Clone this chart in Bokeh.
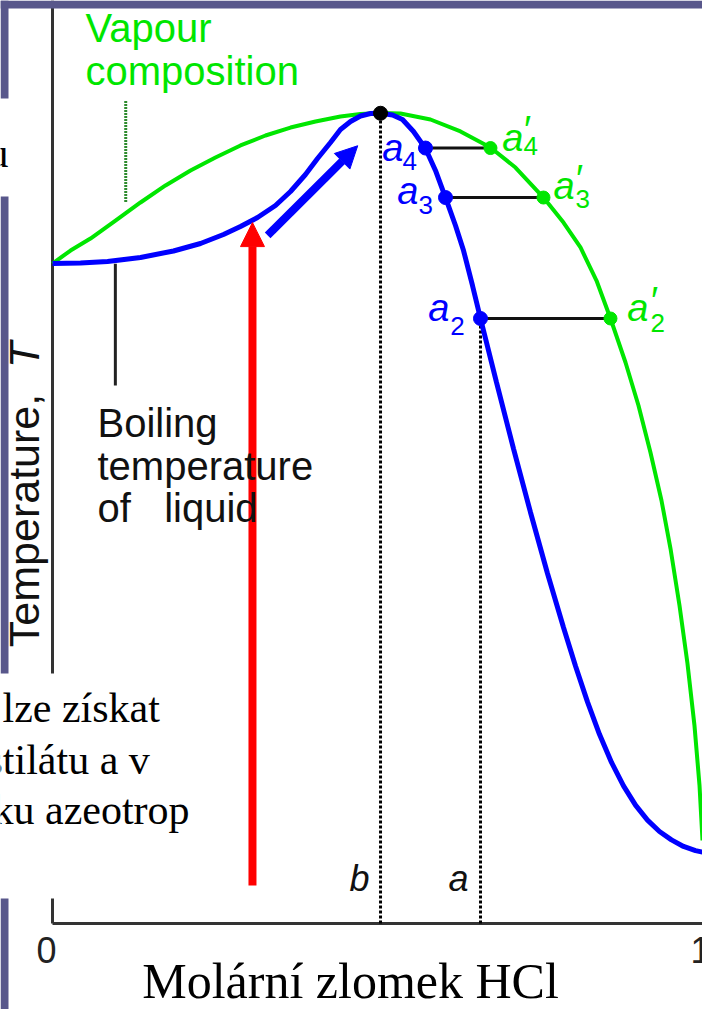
from math import pi
from bokeh.plotting import figure
from bokeh.models import Range1d, Label, Arrow, NormalHead, BoxAnnotation
from bokeh.embed import file_html
from bokeh.resources import INLINE

# ---------------- data (mole fraction HCl, temperature in arbitrary units) ----------------
x_vapour = [0.000, 0.0278, 0.0586, 0.0972, 0.1358, 0.1744, 0.2130, 0.2515, 0.2901, 0.3287,
            0.3673, 0.4059, 0.4444, 0.4753, 0.5062, 0.5370, 0.5833, 0.6296, 0.6759, 0.7145,
            0.7577, 0.7886, 0.8148, 0.8395, 0.8611, 0.8843, 0.9043, 0.9228, 0.9398, 0.9537,
            0.9676, 0.9799, 0.9907, 0.9985, 1.0031]
t_vapour = [72.13, 73.55, 74.86, 76.83, 78.80, 80.66, 82.30, 83.72, 85.03, 86.12,
            86.99, 87.65, 88.20, 88.47, 88.58, 88.52, 87.87, 86.56, 84.81, 82.62,
            79.34, 76.61, 73.88, 70.27, 66.12, 61.31, 56.61, 51.48, 46.23, 40.98,
            34.75, 28.42, 21.64, 15.08, 9.07]

x_liquid = [0.000, 0.0432, 0.0849, 0.1358, 0.1867, 0.2284, 0.2639, 0.2901, 0.3164, 0.3441,
            0.3673, 0.3904, 0.4090, 0.4290, 0.4444, 0.4599, 0.4753, 0.4907, 0.5062, 0.5247,
            0.5401, 0.5571, 0.5756, 0.5910, 0.6065, 0.6219, 0.6343, 0.6481, 0.6605, 0.6852,
            0.7114, 0.7377, 0.7639, 0.7886, 0.8071, 0.8256, 0.8441, 0.8627, 0.8812, 0.8997,
            0.9182, 0.9367, 0.9552, 0.9738, 0.9923, 1.0031]
t_liquid = [72.13, 72.19, 72.35, 72.79, 73.50, 74.32, 75.30, 76.17, 77.16, 78.47,
            80.00, 81.86, 83.61, 85.36, 86.78, 87.65, 88.25, 88.52, 88.55, 88.36,
            87.87, 86.56, 84.70, 82.30, 79.34, 76.28, 73.55, 69.73, 66.12, 59.13,
            51.91, 44.92, 38.25, 32.35, 28.15, 24.22, 20.68, 17.60, 15.04, 12.94,
            11.30, 10.05, 9.14, 8.42, 7.96, 7.80]

# tie lines a2, a3, a4 (liquid point, vapour point, temperature)
tie_names = ["2", "3", "4"]
tie_x_liq = [0.6605, 0.6065, 0.5756]
tie_x_vap = [0.8611, 0.7577, 0.6759]
tie_t = [66.12, 79.34, 84.75]

# azeotrope b and starting composition a
x_b, t_b = 0.5062, 88.55
x_a = 0.6605

x_tick_values = [0, 1]
x_tick_labels = ["0", "1"]

BLUE = "#0000ff"
GREEN = "#00e600"
PURPLE = "#58578b"
SANS = "Liberation Sans"
SERIF = "Liberation Serif"

X0, X1 = -0.08025, 1.00309
T0, T1 = -9.399, 100.874
PX_PER_X = 648.0
PX_PER_T = 9.15

p = figure(width=702, height=1009, output_backend="svg", toolbar_location=None,
           x_range=Range1d(X0, X1), y_range=Range1d(T0, T1),
           min_border=0, min_border_left=0, min_border_right=0,
           min_border_top=0, min_border_bottom=0)
p.outline_line_color = None
p.xaxis.visible = False
p.yaxis.visible = False
p.xgrid.visible = False
p.ygrid.visible = False
p.background_fill_color = "white"
p.border_fill_color = "white"

# axis lines
p.segment(x0=[0, 0], y0=[0, 0], x1=[x_tick_values[-1] + 0.0031, 0], y1=[0, T1],
          line_color="#333333", line_width=3)

# dotted verticals at b and a
p.segment(x0=[x_b, x_a], y0=[0, 0], x1=[x_b, x_a], y1=[t_b, tie_t[0]],
          line_color="#000000", line_width=3, line_dash="3 2")

# curves
p.line(x_vapour, t_vapour, line_color=GREEN, line_width=4)
p.line(x_liquid, t_liquid, line_color=BLUE, line_width=5)

# tie lines
p.segment(x0=tie_x_liq, y0=tie_t, x1=tie_x_vap, y1=tie_t, line_color="#111111", line_width=3)
p.scatter(tie_x_vap, tie_t, size=13, color=GREEN)
p.scatter(tie_x_liq, tie_t, size=14, color=BLUE)
p.scatter([x_b], [t_b], size=14, color="black")

# leader lines
p.segment(x0=[0.113], y0=[89.9], x1=[0.113], y1=[78.8], line_color="#2e8b2e",
          line_width=3, line_dash="2 1")
p.segment(x0=[0.097], y0=[72.1], x1=[0.097], y1=[58.8], line_color="#222222", line_width=3)

# arrows
p.add_layout(Arrow(end=NormalHead(size=24, fill_color="red", line_color="red"),
                   x_start=0.3086, y_start=4.15, x_end=0.3086, y_end=76.6,
                   line_color="red", line_width=8))
p.add_layout(Arrow(end=NormalHead(size=22, fill_color=BLUE, line_color=BLUE),
                   x_start=0.332, y_start=75.2, x_end=0.471, y_end=85.0,
                   line_color=BLUE, line_width=8))

# white slide text box hiding part of the axis
p.add_layout(BoxAnnotation(left=None, right=0.290, bottom=2.73, top=27.32,
                           fill_color="white", fill_alpha=1.0, line_alpha=0))

# slide background strips
p.add_layout(BoxAnnotation(left=None, right=None, bottom=100.0, top=None,
                           fill_color=PURPLE, fill_alpha=1.0, line_alpha=0))
for b_, t_ in [(90.16, None), (27.32, 79.45), (None, 2.73)]:
    p.add_layout(BoxAnnotation(left=None, right=-0.0679, bottom=b_, top=t_,
                               fill_color=PURPLE, fill_alpha=1.0, line_alpha=0))


def lab(x, y, text, size, color="black", font=SANS, style="normal", align="left",
        angle=0.0):
    # the rendered alphabetic baseline sits a little below the anchor; compensate
    shift = 6 + 0.22 * size
    if angle == 0.0:
        y = y + shift / PX_PER_T
    else:
        x = x - shift / PX_PER_X
    p.add_layout(Label(x=x, y=y, text=text, text_font=font, text_font_size=f"{size}px",
                       text_color=color, text_font_style=style, text_align=align,
                       text_baseline="alphabetic", angle=angle))


# texts
lab(0.051, 96.2, "Vapour", 40, GREEN)
lab(0.051, 91.6, "composition", 40, GREEN)
lab(0.0694, 53.1, "Boiling", 40, "#111111")
lab(0.0694, 48.4, "temperature", 40, "#111111")
lab(0.0694, 43.8, "of\u00a0\u00a0\u00a0liquid", 40, "#111111")

# y-axis title (rotated)
lab(-0.0200, 30.2, "Temperature,", 43, "#111111", angle=pi / 2)
lab(-0.0200, 60.7, "T", 43, "#111111", style="italic", angle=pi / 2)

# x tick labels and title
lab(x_tick_values[0] - 0.0093, -4.37, x_tick_labels[0], 36, "#222222", align="center")
lab(x_tick_values[1], -4.37, x_tick_labels[1], 36, "#222222", align="center")
lab(0.4599, -8.10, "Molární zlomek HCl", 50, "black", font=SERIF, align="center")

# point labels
liq_label_pos = [(0.580, 65.7, 0.614, 64.0), (0.532, 78.5, 0.565, 77.2), (0.509, 83.2, 0.540, 82.0)]
vap_label_pos = [(0.887, 65.7, 0.923, 64.3), (0.773, 79.0, 0.807, 77.9), (0.694, 84.3, 0.727, 83.7)]
for name, (xa, ya, xs, ys) in zip(tie_names, liq_label_pos):
    lab(xa, ya, "a", 38, BLUE, style="italic")
    lab(xs, ys, name, 26, BLUE)
for name, (xa, ya, xs, ys) in zip(tie_names, vap_label_pos):
    lab(xa, ya, "a", 38, GREEN, style="italic")
    lab(xs, ys, name, 26, GREEN)
    lab(xs - 0.002, ya + 0.8, "\u2032", 38, GREEN, style="italic")

lab(x_b - 0.017, 3.39, "b", 36, "#111111", style="italic", align="right")
lab(x_a - 0.0185, 3.39, "a", 36, "#111111", style="italic", align="right")

# slide text fragments (cut by the slide edge)
lab(-0.0679, 82.5, "u", 42, "black", font=SERIF, align="right")
lab(-0.0772, 21.86, "lze získat", 42, "black", font=SERIF)
lab(-0.1019, 16.17, "stilátu a v", 42, "black", font=SERIF)
lab(-0.0926, 10.71, "ku azeotrop", 42, "black", font=SERIF)

open("out.html", "w").write(file_html(p, INLINE))
